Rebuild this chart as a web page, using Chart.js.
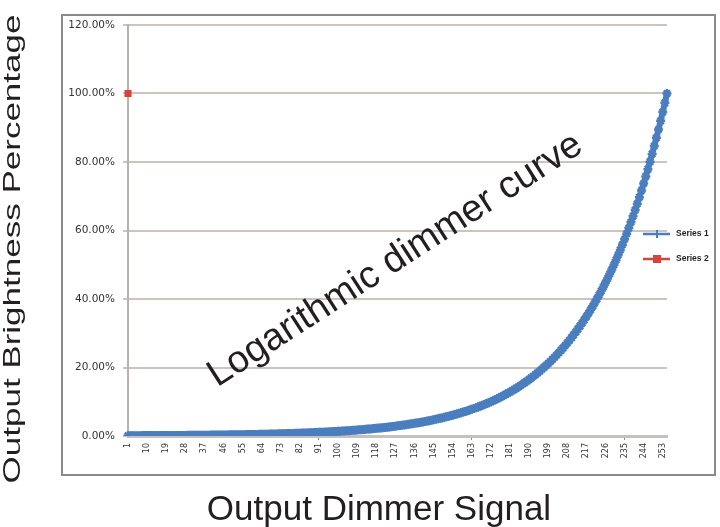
<!DOCTYPE html>
<html>
<head>
<meta charset="utf-8">
<script src="https://cdn.jsdelivr.net/npm/chart.js@4"></script>
<style>
html, body { margin: 0; padding: 0; background: #fff; }
#chart { display: block; }
</style>
</head>
<body>
<canvas id="chart" width="720" height="527"></canvas>
<script>
// dimmer signal steps (categories)
const signal = [
  1,2,3,4,5,6,7,8,9,10,11,12,13,14,15,16,17,18,19,20,21,22,23,24,25,26,27,28,29,30,
  31,32,33,34,35,36,37,38,39,40,41,42,43,44,45,46,47,48,49,50,51,52,53,54,55,56,57,58,59,60,
  61,62,63,64,65,66,67,68,69,70,71,72,73,74,75,76,77,78,79,80,81,82,83,84,85,86,87,88,89,90,
  91,92,93,94,95,96,97,98,99,100,101,102,103,104,105,106,107,108,109,110,111,112,113,114,115,116,117,118,119,120,
  121,122,123,124,125,126,127,128,129,130,131,132,133,134,135,136,137,138,139,140,141,142,143,144,145,146,147,148,149,150,
  151,152,153,154,155,156,157,158,159,160,161,162,163,164,165,166,167,168,169,170,171,172,173,174,175,176,177,178,179,180,
  181,182,183,184,185,186,187,188,189,190,191,192,193,194,195,196,197,198,199,200,201,202,203,204,205,206,207,208,209,210,
  211,212,213,214,215,216,217,218,219,220,221,222,223,224,225,226,227,228,229,230,231,232,233,234,235,236,237,238,239,240,
  241,242,243,244,245,246,247,248,249,250,251,252,253,254,255
]

// Series 1 - brightness in percent
const brightness = [
  0.09,0.09,0.09,0.10,0.10,
  0.10,0.10,0.11,0.11,0.11,0.12,0.12,0.12,0.13,0.13,0.13,0.14,0.14,0.14,0.15,0.15,0.16,0.16,0.17,0.17,0.17,0.18,0.18,0.19,0.20,
  0.20,0.21,0.21,0.22,0.22,0.23,0.24,0.24,0.25,0.26,0.26,0.27,0.28,0.29,0.30,0.30,0.31,0.32,0.33,0.34,0.35,0.36,0.37,0.38,0.39,
  0.40,0.41,0.42,0.44,0.45,0.46,0.47,0.49,0.50,0.52,0.53,0.54,0.56,0.58,0.59,0.61,0.63,0.64,0.66,0.68,0.70,0.72,0.74,0.76,0.78,
  0.80,0.83,0.85,0.87,0.90,0.92,0.95,0.98,1.00,1.03,1.06,1.09,1.12,1.15,1.18,1.22,1.25,1.29,1.32,1.36,1.40,1.44,1.48,1.52,1.56,
  1.61,1.65,1.70,1.75,1.79,1.85,1.90,1.95,2.01,2.06,2.12,2.18,2.24,2.30,2.37,2.43,2.50,2.57,2.65,2.72,2.80,2.88,2.96,3.04,3.13,
  3.21,3.30,3.40,3.49,3.59,3.69,3.79,3.90,4.01,4.12,4.24,4.36,4.48,4.61,4.74,4.87,5.01,5.15,5.29,5.44,5.59,5.75,5.91,6.08,6.25,
  6.43,6.61,6.79,6.98,7.18,7.38,7.59,7.80,8.02,8.25,8.48,8.72,8.96,9.21,9.47,9.74,10.01,10.29,10.58,10.88,11.19,11.50,11.83,12.16,12.50,
  12.85,13.21,13.58,13.97,14.36,14.76,15.18,15.60,16.04,16.49,16.96,17.43,17.92,18.43,18.95,19.48,20.03,20.59,21.17,21.76,22.38,23.00,23.65,24.32,25.00,
  25.70,26.43,27.17,27.93,28.72,29.53,30.35,31.21,32.09,32.99,33.91,34.87,35.85,36.86,37.89,38.96,40.05,41.18,42.34,43.53,44.75,46.01,47.30,48.63,50.00,
  51.41,52.85,54.34,55.86,57.44,59.05,60.71,62.42,64.17,65.98,67.83,69.74,71.70,73.71,75.79,77.91,80.10,82.36,84.67,87.06,89.50,92.02,94.60,97.27,100.00
]

// Series 2 - single point at the first step
const series2 = [100]

const shownTicks = [1,10,19,28,37,46,55,64,73,82,91,100,109,118,127,136,145,154,163,172,181,190,199,208,217,226,235,244,253]
const markedTicks = [91,163,235]

const seriesNames = ['Series 1', 'Series 2']
const yTitle = 'Output Brightness Percentage'
const xTitle = 'Output Dimmer Signal'
const note = 'Logarithmic dimmer curve'

const blue = '#4a7ebf'
const red = '#d8433a'
const textCol = '#231f20'

Chart.defaults.font.family = "'Liberation Sans', Arial, sans-serif"

function drawStar(c, x, y, r) {
  c.beginPath()
  c.moveTo(x - r, y); c.lineTo(x + r, y)
  c.moveTo(x, y - r); c.lineTo(x, y + r)
  c.stroke()
}

const extras = {
  id: 'extras',
  beforeDraw(chart) {
    const c = chart.ctx
    c.save()
    c.fillStyle = '#fff'
    c.fillRect(0, 0, chart.width, chart.height)
    // outer chart frame
    c.strokeStyle = '#8a8a8a'
    c.lineWidth = 2
    c.strokeRect(62, 15, 653, 460)
    c.restore()
  },
  afterDraw(chart) {
    const c = chart.ctx
    c.save()
    c.fillStyle = textCol

    // y title, a bit condensed like the original
    c.save()
    c.translate(20, 249)
    c.rotate(-Math.PI / 2)
    c.scale(1, 0.7)
    c.font = "35px 'Liberation Sans', Arial"
    c.textAlign = 'center'
    c.textBaseline = 'alphabetic'
    c.fillText(yTitle, 0, 0)
    c.restore()

    // x title
    c.font = "35px 'Liberation Sans', Arial"
    c.textAlign = 'center'
    c.textBaseline = 'alphabetic'
    c.fillText(xTitle, 379, 520)

    // annotation across the plot
    c.save()
    c.translate(401, 269)
    c.rotate(-32.8 * Math.PI / 180)
    c.font = "38px 'Liberation Sans', Arial"
    c.fillText(note, 0, 0)
    c.restore()

    // legend
    c.lineWidth = 2.5
    c.strokeStyle = blue
    c.beginPath(); c.moveTo(643, 234); c.lineTo(670, 234); c.stroke()
    c.lineWidth = 2
    drawStar(c, 657, 234, 4)
    c.strokeStyle = red
    c.lineWidth = 2.5
    c.beginPath(); c.moveTo(643, 259); c.lineTo(670, 259); c.stroke()
    c.fillStyle = red
    c.fillRect(653, 255, 8, 8)

    c.fillStyle = textCol
    c.font = "bold 8.5px 'Liberation Sans', Arial"
    c.textAlign = 'left'
    c.textBaseline = 'middle'
    c.fillText(seriesNames[0], 676, 234)
    c.fillText(seriesNames[1], 676, 259)
    c.restore()
  }
}

const ctx = document.getElementById('chart')
const myChart = new Chart(ctx, {
  type: 'line',
  data: {
    labels: signal,
    datasets: [
      {
        label: seriesNames[0],
        data: brightness,
        borderColor: blue,
        backgroundColor: blue,
        borderWidth: 6,
        pointStyle: 'star',
        pointRadius: 4.5,
        pointBorderWidth: 2.5,
        pointBorderColor: blue,
        tension: 0,
      },
      {
        label: seriesNames[1],
        data: series2,
        borderColor: red,
        backgroundColor: red,
        pointStyle: 'rect',
        pointRadius: 5,
        pointBorderWidth: 0,
        showLine: false,
      },
    ],
  },
  options: {
    responsive: false,
    animation: false,
    events: [],
    layout: { padding: { left: 68, right: 53, top: 25, bottom: 60 } },
    plugins: {
      legend: { display: false },
      tooltip: { enabled: false },
    },
    scales: {
      x: {
        type: 'category',
        offset: false,
        afterFit: s => { s.height = 31 },
        grid: {
          display: true,
          drawOnChartArea: false,
          drawTicks: true,
          tickLength: 4,
          color: c => markedTicks.includes(signal[c.index]) ? '#8a8a8a' : 'rgba(0,0,0,0)',
        },
        border: { color: '#c4c1bf', width: 3 },
        ticks: {
          autoSkip: false,
          minRotation: 90,
          maxRotation: 90,
          padding: 3,
          color: '#333',
          font: { family: "'DejaVu Sans'", size: 8 },
          callback: function (v, i) {
            const lab = signal[i]
            return shownTicks.includes(lab) ? String(lab) : ''
          },
        },
      },
      y: {
        min: 0,
        max: 120,
        afterFit: s => { s.width = 60 },
        grid: { color: '#cbc4c0', lineWidth: 2, tickLength: 5 },
        border: { color: '#b8b1ad', width: 2 },
        ticks: {
          stepSize: 20,
          padding: 8,
          color: '#333',
          font: { family: "'DejaVu Sans'", size: 10.5 },
          callback: v => v.toFixed(2) + '%',
        },
      },
    },
  },
  plugins: [extras],
})
</script>
</body>
</html>
